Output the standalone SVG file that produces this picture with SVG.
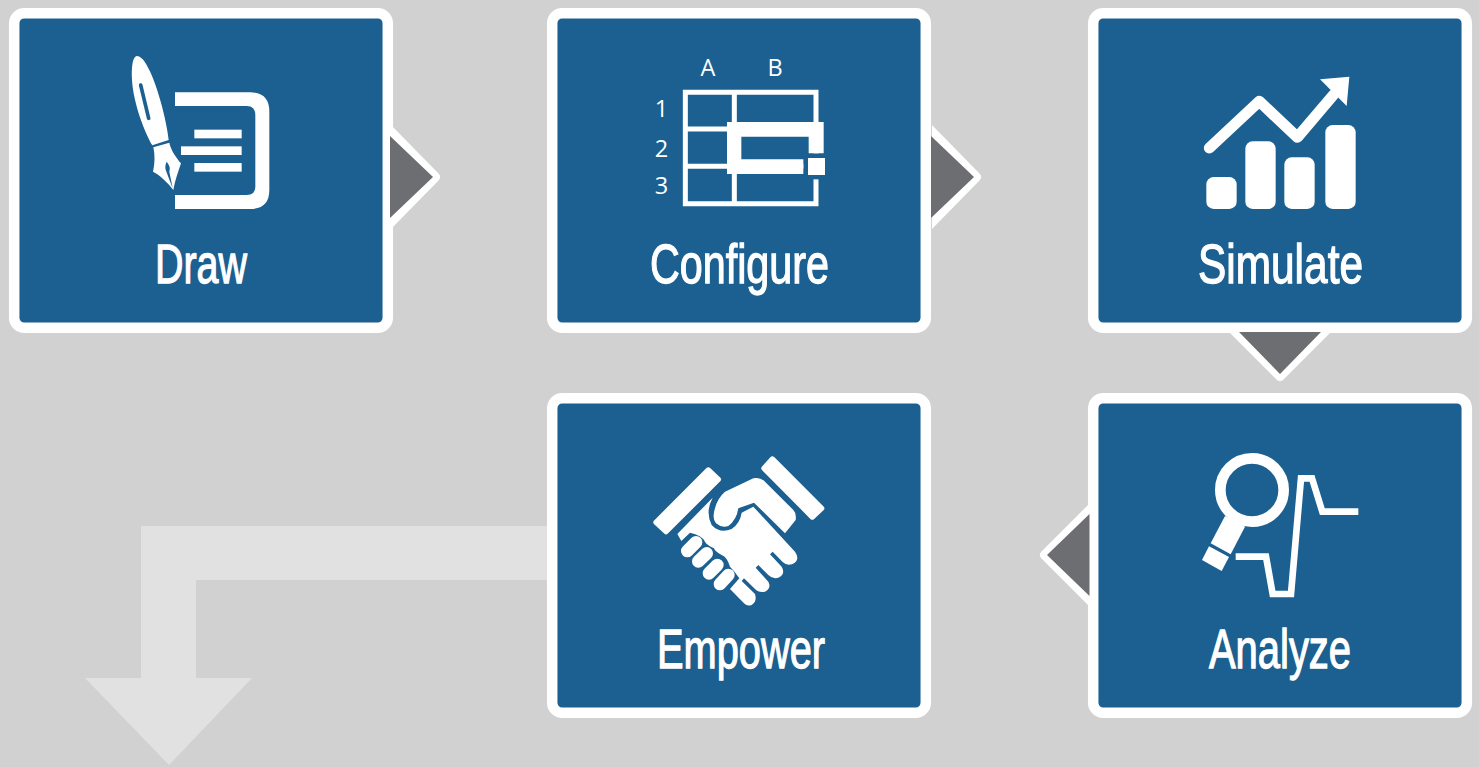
<svg xmlns="http://www.w3.org/2000/svg" width="1479" height="767" viewBox="0 0 1479 767">
<style>
.card{fill:#1b6091;stroke:#fff;stroke-width:10.5}
.lbl{font-family:"Liberation Sans Narrow","Liberation Sans",sans-serif;font-size:56px;fill:#fff;text-anchor:middle;stroke:#fff;stroke-width:1.3}
.sm{font-family:"Open Sans","Noto Sans",sans-serif;font-size:23.500px;fill:#fff;text-anchor:middle}
.w{fill:#fff}.b{fill:#1b6091}
.halo{fill:#fff}.tri{fill:#6d6e71}
</style>
<rect width="1479" height="767" fill="#d1d1d1"/>
<g id="connectors">
<path id="exit" fill="#e1e1e1" d="M547,526H141V678H85L169,765L252,678H196V580H547Z"/>
</g>
<g id="draw">
<rect class="card" x="14.2" y="13.2" width="373.6" height="314.6" rx="10"/>
<g transform="translate(110 40) scale(.33333)">
<path class="w" d="M195,157H420Q478,157 478,215V450Q478,507 420,507H195V465H410Q436,465 436,440V225Q436,198 410,198H195Z"/>
<rect class="w" x="253" y="269" width="142" height="26"/>
<rect class="w" x="213" y="319" width="182" height="26"/>
<rect class="w" x="253" y="369" width="142" height="26"/>
<path class="w" d="M80,48C68,50 64,80 66,120C70,190 105,280 127,316L176,300C170,240 140,130 115,85C105,62 92,48 80,48Z"/>
<path d="M92,135L116,235" stroke="#1b6091" stroke-width="11" stroke-linecap="round"/>
<path class="w" d="M130,322L178,308C182,330 200,355 213,370C205,395 195,420 190,450C175,430 150,405 129,395C135,370 135,345 130,322Z"/>
<path class="b" d="M170,365C165,375 165,385 168,392L188,445L178,395Q183,380 170,365Z"/>
</g>
<text class="lbl" x="201" y="283" textLength="92" lengthAdjust="spacingAndGlyphs">Draw</text>
</g>
<g id="configure">
<rect class="card" x="552.2" y="13.2" width="373.6" height="314.6" rx="10"/>
<g transform="translate(640 40) scale(.33333)">
<path fill="none" stroke="#fff" stroke-width="15" d="M136,157H528V491H136ZM283,157V491M136,267H528M136,379H528"/>
<rect class="b" x="490" y="340" width="70" height="78"/>
<path class="w" d="M261,246H551V340H506V290H304V358H490V402H261Z"/>
<rect class="w" x="504" y="354" width="51" height="51"/>
</g>
<text class="sm" x="708" y="76">A</text>
<text class="sm" x="775" y="76">B</text>
<text class="sm" x="661.500" y="117">1</text>
<text class="sm" x="661.500" y="157">2</text>
<text class="sm" x="661.500" y="194">3</text>
<text class="lbl" x="739.500" y="283" textLength="179" lengthAdjust="spacingAndGlyphs">Configure</text>
</g>
<g id="simulate">
<rect class="card" x="1093.200" y="13.2" width="373.6" height="314.6" rx="10"/>
<g transform="translate(1190 60) scale(.33333)">
<path fill="none" stroke="#fff" stroke-width="33" stroke-linecap="round" stroke-linejoin="round" d="M58,264L208,124L322,232L430,105"/>
<path class="w" d="M390,58L478,50L470,138Z"/>
<rect class="w" x="49" y="351" width="91" height="96" rx="22"/>
<rect class="w" x="166" y="244" width="91" height="203" rx="22"/>
<rect class="w" x="283" y="292" width="91" height="155" rx="22"/>
<rect class="w" x="406" y="195" width="91" height="252" rx="22"/>
</g>
<text class="lbl" x="1280.500" y="283" textLength="165" lengthAdjust="spacingAndGlyphs">Simulate</text>
</g>
<g id="analyze">
<rect class="card" x="1093.200" y="398.2" width="373.6" height="314.6" rx="10"/>
<g transform="translate(1190 440) scale(.33333)">
<circle cx="186" cy="150" r="95" fill="none" stroke="#fff" stroke-width="32"/>
<path class="w" d="M105,228L62,310L122,343L165,260Z"/>
<path class="w" d="M57,319L117,351L95,393L36,360Z"/>
<path fill="none" stroke="#fff" stroke-width="20" d="M137,350H228L248,462H303L333,115H366L397,215H505"/>
</g>
<text class="lbl" x="1280" y="668" textLength="142" lengthAdjust="spacingAndGlyphs">Analyze</text>
</g>
<g id="empower">
<rect class="card" x="552.2" y="398.2" width="373.6" height="314.6" rx="10"/>
<g transform="translate(640 440) scale(.33333)">
<path class="w" stroke="#fff" stroke-width="16" stroke-linejoin="round" d="M205,90L235,118L78,275L48,247Z"/>
<path class="w" stroke="#fff" stroke-width="16" stroke-linejoin="round" d="M397,57L545,205L517,231L372,85Z"/>
<path class="w" d="M255,155L340,115Q360,110 375,125L460,210Q470,220 467,240L435,280L342,188L295,205Q290,240 265,258Q245,265 228,250Q215,235 225,205Q232,175 255,155Z"/>
<path class="w" d="M218,173Q195,215 215,255Q240,282 275,267Q300,250 305,218L340,200L465,335Q482,360 458,372Q440,378 428,366L398,335L390,343L425,380Q437,400 418,412Q400,420 385,405L355,375L347,383L385,425Q395,445 375,455Q355,458 345,447L312,415L305,423L345,462Q352,485 335,495Q322,500 312,490L270,447L298,415Q285,395 270,380Q262,352 245,345Q225,335 222,325Q200,315 195,305Q185,285 150,278L124,303L112,282Z"/>
<path fill="none" stroke="#fff" stroke-width="38" stroke-linecap="round" d="M142,333L168,307M175,364L200,340M207,400L232,375M240,432L265,405"/>
</g>
<text class="lbl" x="741" y="668" textLength="168" lengthAdjust="spacingAndGlyphs">Empower</text>
</g>
<g id="arrows">
<path class="halo" d="M391,125L438.500,173.500Q442,177 438.500,180.500L391,229Z"/>
<path class="tri" d="M390,136L433,177L390,218Z"/>
<path class="halo" d="M932,125L979.500,173.500Q983,177 979.500,180.500L932,229Z"/>
<path class="tri" d="M931,136L974,177L931,218Z"/>
<path class="halo" d="M1229,332L1276.500,379.500Q1280,383 1283.500,379.500L1331,332Z"/>
<path class="tri" d="M1239,332H1321L1280,374Z"/>
<path class="halo" d="M1089,504L1041.500,551.500Q1038,555 1041.500,558.500L1089,606Z"/>
<path class="tri" d="M1089.500,514L1047,555L1089.500,596Z"/>
</g>
</svg>
